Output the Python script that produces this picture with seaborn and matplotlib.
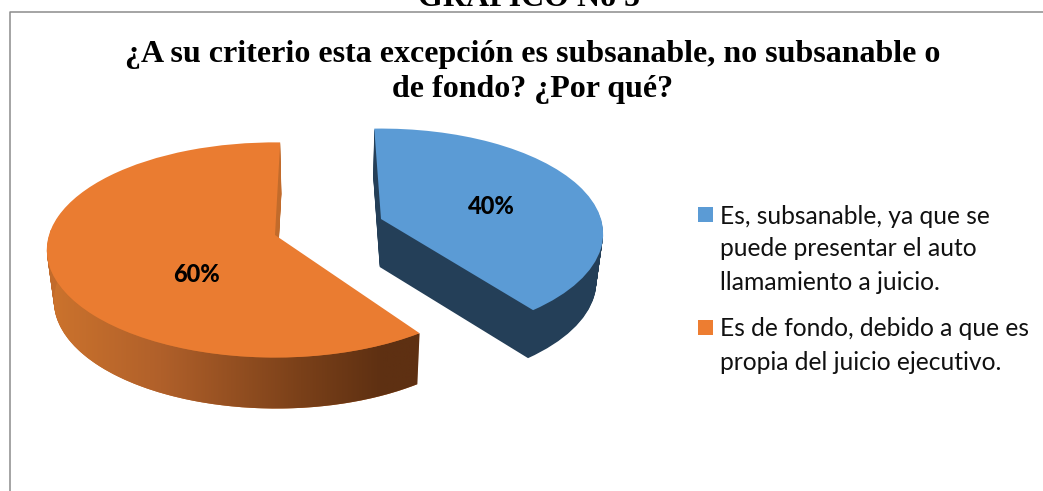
import numpy as np
import matplotlib
matplotlib.use('Agg')
import matplotlib.pyplot as plt
import seaborn as sns
from matplotlib.colors import LinearSegmentedColormap
from matplotlib.patches import Rectangle, Wedge, PathPatch
from matplotlib.path import Path
from matplotlib.transforms import Transform

# values
categories = ['Es, subsanable, ya que se\npuede presentar el auto\nllamamiento a juicio.',
              'Es de fondo, debido a que es\npropia del juicio ejecutivo.']
shares = [40, 60]
top_colors = ['#5b9bd5', '#ea7c31']
legend_colors = ['#5b9bd5', '#ed7d31']
title = '¿A su criterio esta excepción es subsanable, no subsanable o\nde fondo? ¿Por qué?'
heading = 'GRÁFICO No 5'

sns.set_theme(style='white')
plt.rcParams['font.family'] = ['Lato', 'DejaVu Sans']


# tilts the flat pie into the perspective of the 3D chart, units are pixels
class Tilt(Transform):
    input_dims = 2
    output_dims = 2

    def __init__(self, cx, cy, rx, ry, k, rot, depth=0, shrink=1.0, xc=330):
        super().__init__()
        self.p = (cx, cy, rx, ry, k, np.radians(rot), depth, shrink, xc)

    def transform_non_affine(self, xy):
        cx, cy, rx, ry, k, rot, depth, shrink, xc = self.p
        xy = np.asarray(xy, dtype=float)
        x = xy[:, 0] * np.cos(rot) - xy[:, 1] * np.sin(rot)
        y = xy[:, 0] * np.sin(rot) + xy[:, 1] * np.cos(rot)
        w = 1 + k * y
        px = cx + rx * x / w
        py = cy - ry * y / w
        px = xc + (px - xc) * shrink
        return np.column_stack([px, py + depth])


blue = dict(cx=381, cy=219, rx=220, ry=103, k=0.139, rot=2)
orange = dict(cx=275, cy=235, rx=226, ry=105.5, k=0.139, rot=-1.5)
blue_depth = 48
orange_depth = 51

fig = plt.figure(figsize=(10.43, 4.91), dpi=100)
ax = fig.add_axes([0, 0, 1, 1])

wedges, _ = ax.pie(shares, startangle=90, counterclock=False, colors=top_colors,
                   wedgeprops=dict(edgecolor='none', linewidth=0))
ax.set_aspect('auto')
ax.axis('off')

w_blue, w_orange = wedges

# side walls: the same wedge stacked downwards
for d in range(blue_depth, 0, -1):
    ax.add_patch(Wedge((0, 0), 1, w_blue.theta1, w_blue.theta2, fc='#243f58', ec='none', zorder=1,
                       transform=Tilt(**blue, depth=d, shrink=1 - 0.025 * d / blue_depth) + ax.transData))
for d in range(orange_depth, 0, -1):
    ax.add_patch(Wedge((0, 0), 1, w_orange.theta1, w_orange.theta2, fc='#c26b2b', ec='none', zorder=1,
                       transform=Tilt(**orange, depth=d, shrink=1 - 0.025 * d / orange_depth) + ax.transData))

# orange rim gets the shaded gradient
ang = np.radians(np.linspace(w_orange.theta2, -190, 120))
arc = np.column_stack([np.cos(ang), np.sin(ang)])
rim_top = Tilt(**orange).transform(arc)
rim_bot = Tilt(**orange, depth=orange_depth, shrink=0.975).transform(arc)
rim = np.vstack([rim_top, rim_bot[::-1], rim_top[:1]])
cmap = LinearSegmentedColormap.from_list('rim', [(0, '#cc732d'), (0.3, '#b0602a'), (0.68, '#7a4019'),
                                                 (0.9, '#5e3012'), (1, '#5e3012')])
im = ax.imshow(np.linspace(0, 1, 256)[None, :], cmap=cmap, extent=(50, 420, 420, 230), aspect='auto', zorder=2)
im.set_clip_path(PathPatch(Path(rim), transform=ax.transData))

# top faces
w_blue.set_transform(Tilt(**blue) + ax.transData)
w_orange.set_transform(Tilt(**orange) + ax.transData)
w_blue.set_zorder(3)
w_orange.set_zorder(3)
ax.set_xlim(0, 1043)
ax.set_ylim(491, 0)

ax.text(491, 206, f'{shares[0]}%', fontsize=17, fontweight='black', color='black', ha='center', va='center', zorder=4)
ax.text(197, 274, f'{shares[1]}%', fontsize=17, fontweight='black', color='black', ha='center', va='center', zorder=4)

# title and the heading cut off above the chart frame
ax.text(533, 72, title, family='Liberation Serif', fontweight='bold', fontsize=23, ha='center', va='center',
        linespacing=1.25, color='black')
ax.text(529, 6, heading, family='Liberation Serif', fontweight='bold', fontsize=23, ha='center', va='baseline',
        color='black', zorder=0)

# chart frame, only left and top are visible
ax.plot([9.5, 9.5, 1043], [491, 12, 12], color='#8c8c8c', lw=1.1, zorder=1)

# legend
ax.add_patch(Rectangle((698, 207), 15, 15, fc=legend_colors[0], ec='none'))
ax.add_patch(Rectangle((698, 320), 15, 15, fc=legend_colors[1], ec='none'))
ax.text(720, 216, categories[0].split('\n')[0], fontsize=17.7, va='center', color='#111111')
ax.text(720, 249, categories[0].split('\n')[1], fontsize=17.7, va='center', color='#111111')
ax.text(720, 282, categories[0].split('\n')[2], fontsize=17.7, va='center', color='#111111')
ax.text(720, 329, categories[1].split('\n')[0], fontsize=17.7, va='center', color='#111111')
ax.text(720, 362, categories[1].split('\n')[1], fontsize=17.7, va='center', color='#111111')

fig.savefig('out.png', dpi=100)
